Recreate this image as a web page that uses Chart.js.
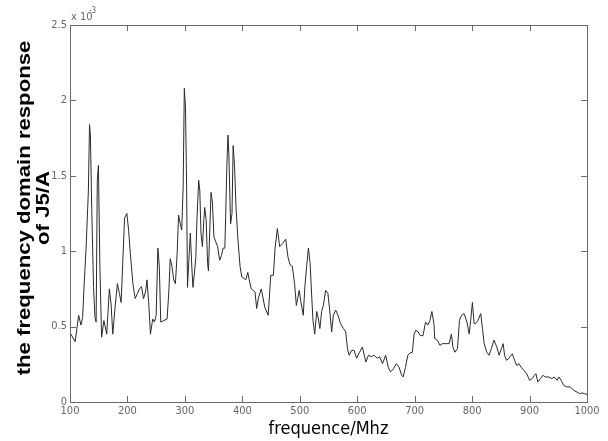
<!DOCTYPE html>
<html>
<head>
<meta charset="utf-8">
<script src="https://cdn.jsdelivr.net/npm/chart.js@4.4.1/dist/chart.umd.min.js"></script>
<style>
  body { margin: 0; background: #fff; }
  #wrap { width: 608px; height: 441px; }
</style>
</head>
<body>
<div id="wrap"><canvas id="responseChart" width="608" height="441"></canvas></div>
<script>
// Frequency samples (MHz) and response magnitude (x 10^-3)
const freqMHz = [
  100, 109, 115, 119, 122, 124.5, 128, 132, 134, 135.5, 138, 141, 143.5, 145.5, 147.5, 149.5,
  152, 155, 159, 164, 168.5, 171.5, 174.5, 178.5, 182.5, 186, 189, 192, 195, 199, 202, 205,
  209.5, 213.5, 217.5, 221, 224.5, 228, 231.5, 234, 237, 240, 244, 247, 250, 253, 255.5, 258,
  263, 269, 272, 274.5, 277.5, 280.5, 283.5, 286.5, 289, 292, 294.5, 297, 299, 301, 303, 304.5,
  307.5, 309.5, 312, 314, 316.5, 319, 321, 324, 326, 328, 330.5, 333, 334.5, 337, 339.5, 341,
  343.5, 345.5, 348, 350.5, 354, 357, 360.5, 363.5, 366.5, 369.5, 371, 373, 375, 376.5, 379.5, 382,
  384, 386.5, 389, 392.5, 396, 399, 403, 406, 409.5, 412, 415.5, 419, 422, 425, 428, 433,
  439, 445, 449.5, 454, 457, 461, 465, 470, 475.5, 479.5, 483, 487, 491, 494, 499, 501.5,
  506, 509, 512, 515, 518, 521, 523, 526, 529.5, 532.5, 535, 538, 541, 545, 549, 552,
  555.5, 558.5, 562.5, 566.5, 571, 576, 580, 583, 586, 590.5, 594.5, 599, 604, 609, 615, 619.5,
  624.5, 629, 635, 639, 644, 649.5, 654, 658, 663, 668, 673, 677, 680, 684, 688, 692,
  696, 699, 702, 706, 710, 714.5, 719, 723, 726.5, 730, 733.5, 735, 739.5, 744, 748.5, 754,
  760, 764, 766.5, 770, 774.5, 778, 781.5, 786, 791, 795, 797.5, 800.5, 803.5, 806, 810, 815,
  818, 821, 825.5, 829.5, 833.5, 838, 843, 847, 851, 854, 856.5, 860, 864, 870, 874, 877.5,
  881.5, 885.5, 890, 895, 900, 904.5, 908.5, 911, 914.5, 919, 923.5, 927.5, 933.5, 939, 943, 948,
  951, 955, 959.5, 965, 971, 977, 982.5, 987, 991, 996, 1000
];
const responseJ5 = [
  0.46, 0.40, 0.575, 0.51, 0.56, 0.77, 1.02, 1.40, 1.84, 1.77, 1.25, 0.76, 0.56, 0.53, 1.47, 1.57,
  0.90, 0.43, 0.54, 0.45, 0.75, 0.65, 0.45, 0.63, 0.785, 0.72, 0.66, 0.94, 1.22, 1.25, 1.14, 0.985,
  0.785, 0.686, 0.72, 0.75, 0.765, 0.686, 0.73, 0.81, 0.66, 0.45, 0.55, 0.53, 0.575, 1.02, 0.90, 0.53,
  0.54, 0.55, 0.73, 0.95, 0.90, 0.81, 0.785, 0.985, 1.24, 1.18, 1.14, 1.43, 2.08, 1.96, 1.43, 0.76,
  0.985, 1.12, 0.90, 0.76, 0.85, 0.96, 1.21, 1.47, 1.40, 1.12, 1.03, 1.21, 1.29, 1.21, 0.92, 0.87,
  1.16, 1.39, 1.32, 1.095, 1.06, 1.03, 0.94, 0.97, 1.02, 1.02, 1.23, 1.56, 1.77, 1.65, 1.18, 1.25,
  1.70, 1.56, 1.29, 1.07, 0.90, 0.83, 0.82, 0.81, 0.86, 0.81, 0.75, 0.74, 0.73, 0.62, 0.69, 0.75,
  0.63, 0.575, 0.84, 0.84, 1.02, 1.15, 1.03, 1.05, 1.08, 0.96, 0.91, 0.90, 0.785, 0.64, 0.74, 0.675,
  0.575, 0.77, 0.90, 1.02, 0.92, 0.686, 0.54, 0.45, 0.60, 0.55, 0.487, 0.60, 0.64, 0.74, 0.72, 0.61,
  0.465, 0.575, 0.61, 0.575, 0.52, 0.487, 0.465, 0.354, 0.31, 0.343, 0.343, 0.29, 0.33, 0.365, 0.265, 0.31,
  0.30, 0.31, 0.29, 0.30, 0.254, 0.31, 0.23, 0.20, 0.22, 0.254, 0.23, 0.18, 0.166, 0.23, 0.31, 0.325,
  0.33, 0.45, 0.476, 0.465, 0.44, 0.44, 0.53, 0.51, 0.54, 0.60, 0.52, 0.42, 0.41, 0.376, 0.387, 0.387,
  0.387, 0.45, 0.365, 0.33, 0.354, 0.54, 0.575, 0.586, 0.53, 0.45, 0.54, 0.66, 0.52, 0.52, 0.54, 0.586,
  0.487, 0.387, 0.33, 0.31, 0.354, 0.41, 0.365, 0.31, 0.354, 0.387, 0.31, 0.276, 0.29, 0.32, 0.276, 0.243,
  0.254, 0.23, 0.21, 0.188, 0.144, 0.155, 0.177, 0.188, 0.133, 0.155, 0.177, 0.166, 0.166, 0.155, 0.166, 0.144,
  0.166, 0.144, 0.11, 0.10, 0.10, 0.077, 0.066, 0.055, 0.06, 0.055, 0.05
];
const xTicks = [100, 200, 300, 400, 500, 600, 700, 800, 900, 1000];
const yTicks = [0, 0.5, 1, 1.5, 2, 2.5];

const narrowFamily = "'Liberation Sans Narrow', 'DejaVu Sans Condensed', sans-serif";
const frameColor = "#6a6a6a";

// Boxed axes with inward tick marks, exponent tag and axis titles
const matlabFrame = {
  id: "matlabFrame",
  afterDraw(chart) {
    const { ctx, chartArea: a, scales } = chart;
    ctx.save();
    ctx.strokeStyle = frameColor;
    ctx.lineWidth = 1;
    ctx.strokeRect(a.left + 0.5, a.top + 0.5, a.right - a.left, a.bottom - a.top);

    ctx.beginPath();
    xTicks.forEach((v) => {
      const px = Math.round(scales.x.getPixelForValue(v)) + 0.5;
      ctx.moveTo(px, a.bottom);
      ctx.lineTo(px, a.bottom - 6);
      ctx.moveTo(px, a.top);
      ctx.lineTo(px, a.top + 6);
    });
    yTicks.forEach((v) => {
      const py = Math.round(scales.y.getPixelForValue(v)) + 0.5;
      ctx.moveTo(a.left, py);
      ctx.lineTo(a.left + 6, py);
      ctx.moveTo(a.right, py);
      ctx.lineTo(a.right - 6, py);
    });
    ctx.stroke();

    // exponent above the y axis
    ctx.fillStyle = "#666";
    ctx.textBaseline = "alphabetic";
    ctx.textAlign = "left";
    ctx.font = "11px " + narrowFamily;
    ctx.fillText("x 10", a.left + 1, a.top - 5);
    ctx.font = "8px " + narrowFamily;
    ctx.fillText("-3", a.left + 19, a.top - 12);

    // x title
    ctx.fillStyle = "#000";
    ctx.textAlign = "center";
    ctx.font = "18px " + narrowFamily;
    ctx.fillText("frequence/Mhz", (a.left + a.right) / 2, 434);

    // y title, two lines rotated and stretched along the axis
    ctx.translate(0, 208);
    ctx.rotate(-Math.PI / 2);
    ctx.scale(1.23, 1);
    ctx.font = "bold 18px 'Liberation Sans', Arial, sans-serif";
    ctx.fillText("the frequency domain response", 0, 30);
    ctx.fillText("of J5/A", 0, 49);
    ctx.restore();
  },
};

const responseCtx = document.getElementById("responseChart");

new Chart(responseCtx, {
  type: "line",
  data: {
    datasets: [
      {
        label: "J5/A",
        data: freqMHz.map((f, i) => ({ x: f, y: responseJ5[i] })),
        borderColor: "#2a2a2a",
        borderWidth: 1,
        pointRadius: 0,
        tension: 0,
        fill: false,
      },
    ],
  },
  options: {
    responsive: false,
    animation: false,
    layout: {
      padding: { left: 0, right: 21, top: 25, bottom: 0 },
    },
    plugins: {
      legend: { display: false },
      tooltip: { enabled: false },
    },
    scales: {
      x: {
        type: "linear",
        min: 100,
        max: 1000,
        afterFit: (scale) => {
          scale.height = 39;
        },
        afterBuildTicks: (scale) => {
          scale.ticks = xTicks.map((v) => ({ value: v }));
        },
        grid: { display: false, drawTicks: false },
        border: { display: false },
        ticks: {
          color: "#666",
          font: { family: narrowFamily, size: 11 },
          padding: 3,
          maxRotation: 0,
          autoSkip: false,
          callback: (v) => String(v),
        },
      },
      y: {
        min: 0,
        max: 2.5,
        afterFit: (scale) => {
          scale.width = 70;
        },
        afterBuildTicks: (scale) => {
          scale.ticks = yTicks.map((v) => ({ value: v }));
        },
        grid: { display: false, drawTicks: false },
        border: { display: false },
        ticks: {
          color: "#666",
          font: { family: narrowFamily, size: 11 },
          padding: 3,
          callback: (v) => String(v),
        },
      },
    },
  },
  plugins: [matlabFrame],
});
</script>
</body>
</html>
